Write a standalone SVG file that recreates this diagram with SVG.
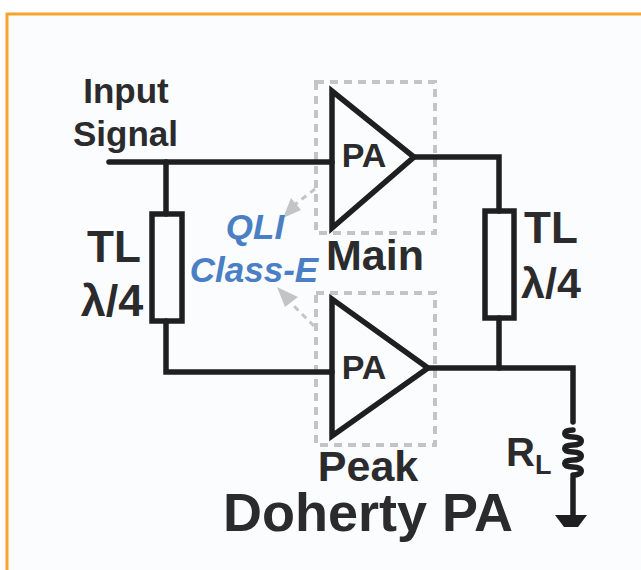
<svg xmlns="http://www.w3.org/2000/svg" width="641" height="570" viewBox="0 0 641 570">
<style>
text{font-family:"Liberation Sans",Arial,sans-serif;font-weight:700;fill:#2b2b2d}
.w{fill:none;stroke:#1f1f21;stroke-width:5.5;stroke-linejoin:miter;stroke-linecap:round}
.d{fill:none;stroke:#c2c4c6;stroke-width:4;stroke-dasharray:8 6}
.a{fill:none;stroke:#c2c4c6;stroke-width:3;stroke-dasharray:6 5}
.b{font-style:italic;fill:#4a7fc6;font-size:35px}
.m{text-anchor:middle}
</style>
<rect width="641" height="570" fill="#fff"/>
<path d="M7 570V14H641V570z" fill="#fbfcfd"/>
<path d="M7 570V14H641" fill="none" stroke="#f6a22c" stroke-width="3"/>
<g id="main-box"><rect class="d" x="316" y="82" width="119" height="151"/></g>
<g id="peak-box"><rect class="d" x="316" y="293" width="119" height="152"/></g>
<g id="connectors">
<path class="w" d="M109 162H332"/>
<path class="w" d="M166 162V214M166 321V372H332"/>
<path class="w" d="M414 157H499V211M499 318V368"/>
<path class="w" d="M428 368H573V422M573 478V518"/>
<path class="w" d="M573 430c-11 0-11 7 0 7s11 8 0 8s-11 7 0 7s11 8 0 8s-11 7 0 7s11 8 0 8"/>
<path d="M555 515H587L578 527H564z" fill="#1f1f21"/>
<path class="a" d="M315 189L293 206"/>
<path d="M301 210L283 218L291 198z" fill="#c2c4c6"/>
<path class="a" d="M314 326L291 303"/>
<path d="M277 287L298 297L285 307z" fill="#c2c4c6"/>
</g>
<g id="input-label"><text class="m" x="126" y="103" font-size="35">Input</text><text class="m" x="125.500" y="146" font-size="35">Signal</text></g>
<g id="tl-left"><rect class="w" x="152" y="214" width="30" height="107"/><text class="m" x="114" y="262" font-size="44">TL</text><text class="m" x="112" y="316" font-size="45">λ/4</text></g>
<g id="tl-right"><rect class="w" x="485" y="211" width="29" height="107"/><text class="m" x="551" y="243" font-size="44">TL</text><text class="m" x="551" y="298" font-size="43">λ/4</text></g>
<g id="pa-main"><path class="w" d="M332 91V228L414 157z"/><text class="m" x="364" y="167" font-size="34">PA</text></g>
<g id="pa-peak"><path class="w" d="M332 299V436L428 368z"/><text class="m" x="364" y="379" font-size="34">PA</text></g>
<g id="labels">
<text class="b m" x="255" y="239">QLI</text>
<text class="b m" x="254" y="282">Class-E</text>
<text class="m" x="375" y="270" font-size="43">Main</text>
<text class="m" x="368" y="481" font-size="43">Peak</text>
<text x="506" y="466" font-size="40">R<tspan font-size="27" dy="8">L</tspan></text>
<text class="m" x="368" y="531" font-size="54">Doherty PA</text>
</g>
</svg>
